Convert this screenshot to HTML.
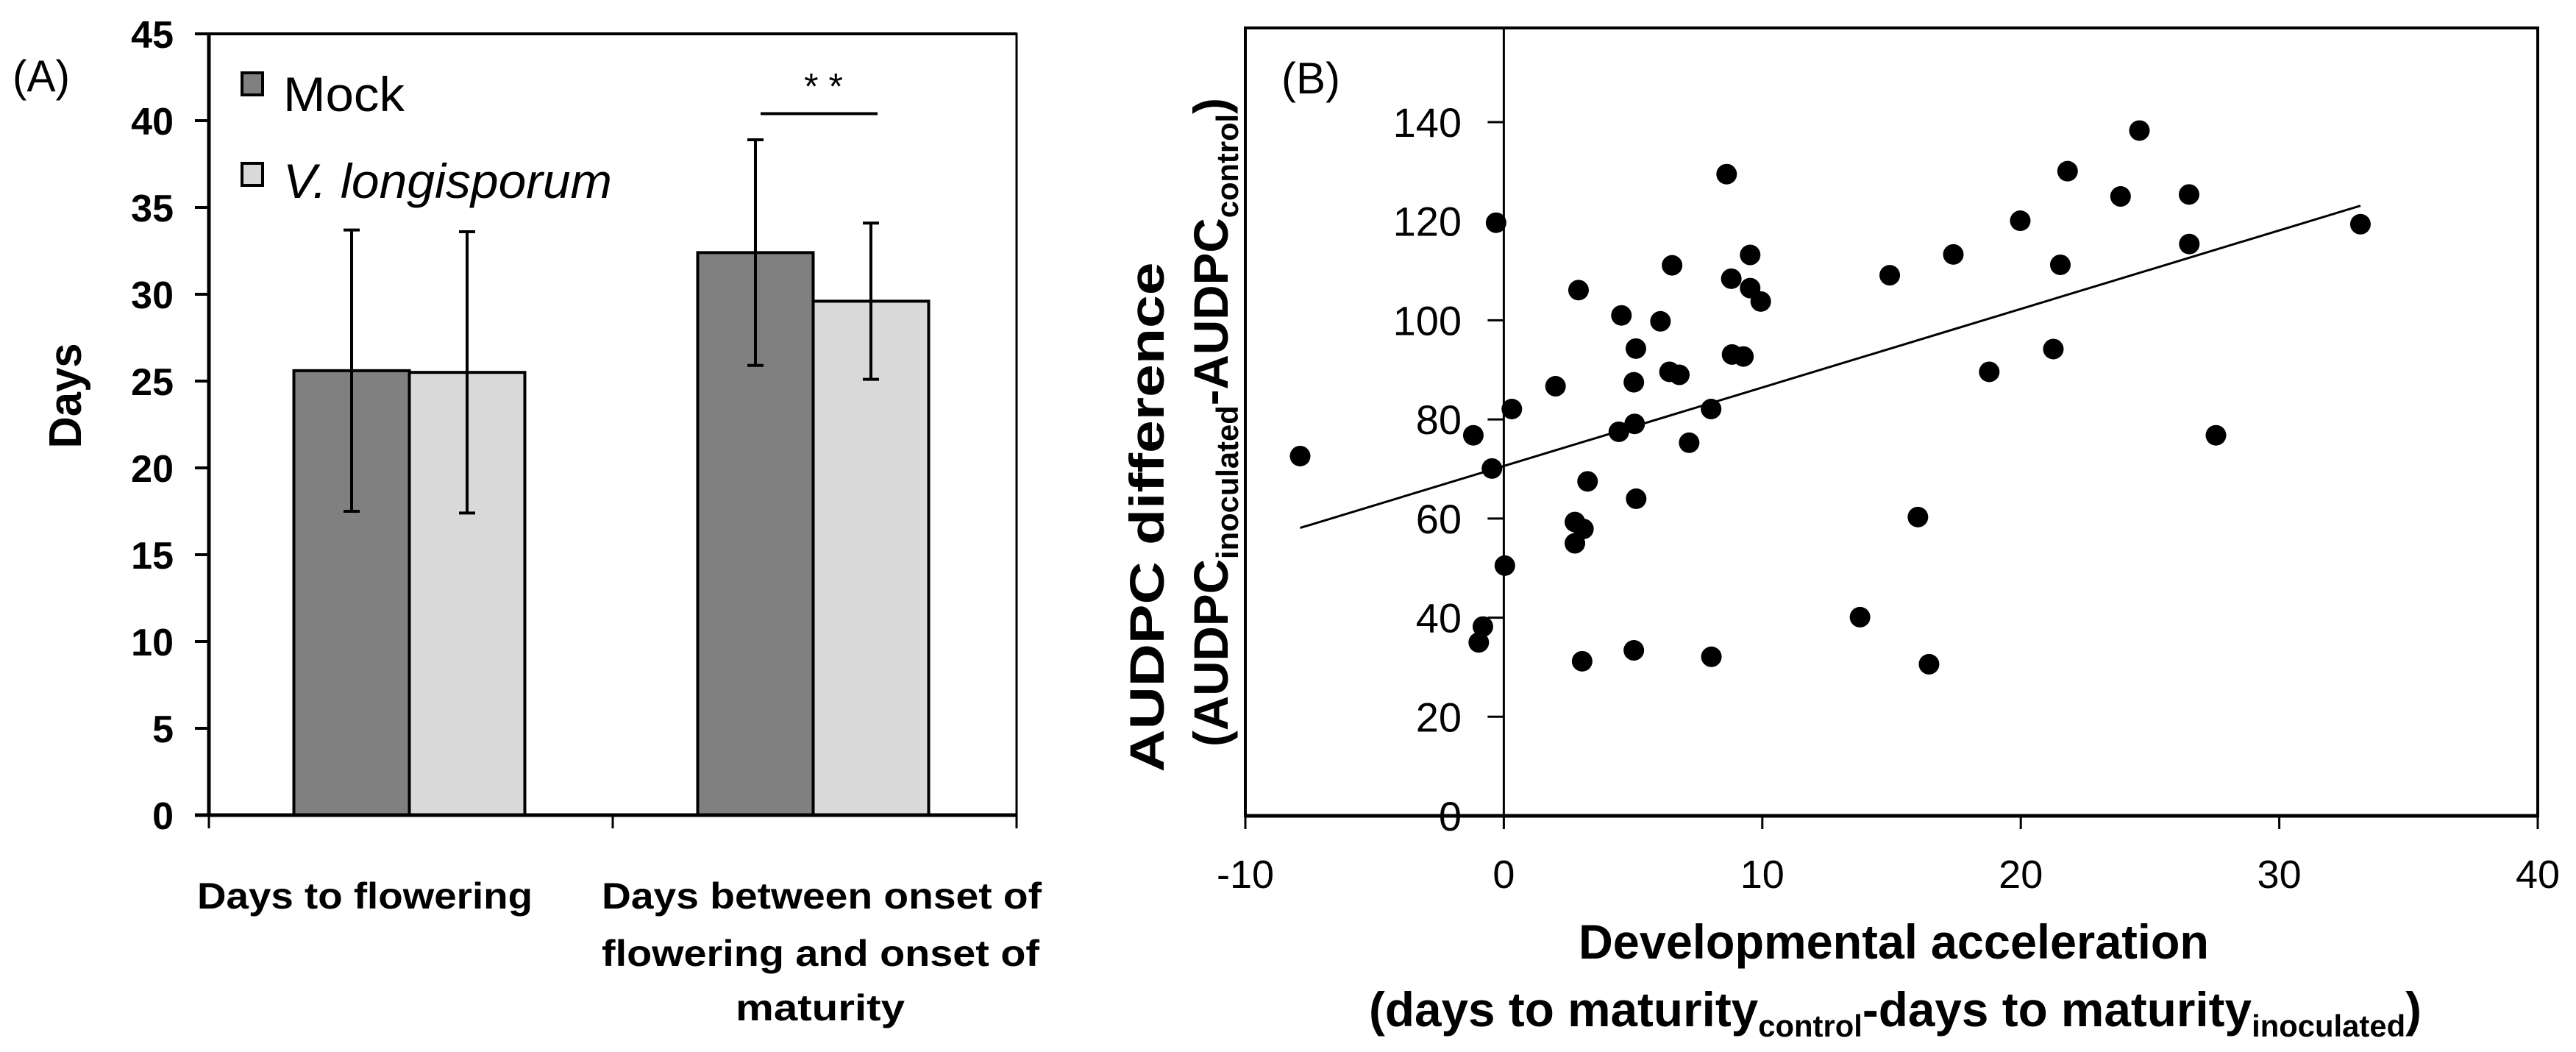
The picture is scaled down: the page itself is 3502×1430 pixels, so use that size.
<!DOCTYPE html>
<html><head><meta charset="utf-8"><style>
html,body{margin:0;padding:0;background:#fff;}
svg{display:block;font-family:"Liberation Sans",sans-serif;}
</style></head><body>
<svg id="fig" width="3502" height="1430" viewBox="0 0 3502 1430" xmlns="http://www.w3.org/2000/svg">
<g id="panelA"></g>
<g id="panelB"></g>
</svg>
<script>
// ---- Panel A data ----
const categoriesA = ["Days to flowering", "Days between onset of flowering and onset of maturity"];
const mockValues = [25.6, 32.4];
const mockErrors = [8.1, 6.5];
const vlValues = [25.5, 29.6];
const vlErrors = [8.1, 4.5];
const yTicksA = [0, 5, 10, 15, 20, 25, 30, 35, 40, 45];
const sigLevel = [40.4];
// ---- Panel B data ----
const accelX = [-7.88,-1.18,-0.46,-0.30,-0.81,-0.97,0.04,0.31,2.0,2.89,2.75,3.08,2.75,3.24,3.03,4.55,5.11,5.03,4.45,5.06,5.12,5.03,6.06,6.51,6.41,6.79,7.17,8.02,8.03,8.62,8.80,8.83,9.27,9.53,9.53,9.94,13.78,14.93,17.39,16.02,16.45,18.78,19.98,21.26,21.53,21.81,23.86,24.59,26.51,26.52,27.55,33.14];
const audpcY = [72.6,76.8,70.1,119.7,38.2,35.0,50.5,82.1,86.7,106.1,59.3,57.9,55.0,67.5,31.2,101.0,94.3,87.5,77.5,79.1,64.0,33.4,99.8,111.1,89.6,89.0,75.3,82.1,32.1,129.5,108.4,93.1,92.7,113.2,106.5,103.8,40.1,109.1,113.3,60.3,30.6,89.6,120.1,94.2,111.2,130.1,125.0,138.3,125.4,115.4,76.8,119.4];
const trendRange = [-7.88, 33.14];
const trendCoef = [70.6, 1.585];
const xTicksB = [-10, 0, 10, 20, 30, 40];
const yTicksB = [0, 20, 40, 60, 80, 100, 120, 140];

const NS = "http://www.w3.org/2000/svg";
function mk(parent, tag, attrs, text){
  const e = document.createElementNS(NS, tag);
  for (const k in attrs) e.setAttribute(k, attrs[k]);
  if (text !== undefined) e.textContent = text;
  parent.appendChild(e);
  return e;
}

// ===== Panel A =====
const A = document.getElementById('panelA');
const aL = 284, aR = 1382, aT = 46, aB = 1108;
const yA = v => aB - (v / 45) * (aB - aT);
const catW = (aR - aL) / categoriesA.length;
const barW = 157;
const catCenter = i => aL + catW * (i + 0.5) - 2;

let el;
el = mk(A, 'rect', {x: aL, y: aT, width: aR - aL, height: aB - aT, fill: 'none', stroke: '#000', 'stroke-width': 3});



for (let i = 0; i < categoriesA.length; i++) {
  const c = catCenter(i);
  el = mk(A, 'rect', {x: c - barW, y: yA(mockValues[i]), width: barW, height: aB - yA(mockValues[i]), fill: '#808080', stroke: '#000', 'stroke-width': 4});
  
  
  el = mk(A, 'rect', {x: c, y: yA(vlValues[i]), width: barW, height: aB - yA(vlValues[i]), fill: '#d9d9d9', stroke: '#000', 'stroke-width': 4});
  
  
  const series = [[c - barW / 2, mockValues[i], mockErrors[i], 'mock'], [c + barW / 2, vlValues[i], vlErrors[i], 'vl']];
  for (const s of series) {
    const g = mk(A, 'g', {stroke: '#000', 'stroke-width': 4});
    
    
    mk(g, 'line', {x1: s[0], x2: s[0], y1: yA(s[1] + s[2]), y2: yA(s[1] - s[2])});
    mk(g, 'line', {x1: s[0] - 11, x2: s[0] + 11, y1: yA(s[1] + s[2]), y2: yA(s[1] + s[2])});
    mk(g, 'line', {x1: s[0] - 11, x2: s[0] + 11, y1: yA(s[1] - s[2]), y2: yA(s[1] - s[2])});
  }
}
el = mk(A, 'line', {x1: aL, x2: aL, y1: aT, y2: aB, stroke: '#000', 'stroke-width': 5});


el = mk(A, 'line', {x1: 265, x2: aR, y1: aB, y2: aB, stroke: '#000', 'stroke-width': 5});


el = mk(A, 'line', {x1: 265, x2: aR, y1: aT, y2: aT, stroke: '#000', 'stroke-width': 4});


for (const t of yTicksA) {
  el = mk(A, 'line', {x1: 265, x2: aL, y1: yA(t), y2: yA(t), stroke: '#000', 'stroke-width': 4});
  
  
  el = mk(A, 'text', {x: 236, y: yA(t) + 19, 'text-anchor': 'end', 'font-size': 52, 'font-weight': 'bold'}, String(t));
  
  
}
for (let i = 0; i <= categoriesA.length; i++) {
  const x = aL + catW * i;
  el = mk(A, 'line', {x1: x, x2: x, y1: aB, y2: aB + 18, stroke: '#000', 'stroke-width': 3});
  
  
}
el = mk(A, 'text', {x: 268, y: 1235, 'font-size': 50, 'font-weight': 'bold', textLength: 456, lengthAdjust: 'spacingAndGlyphs'}, "Days to flowering");


const cat2 = [["Days between onset of", 818, 1235, 598], ["flowering and onset of", 818, 1313, 595], ["maturity", 1000, 1387, 230]];
for (const l of cat2) {
  el = mk(A, 'text', {x: l[1], y: l[2], 'font-size': 50, 'font-weight': 'bold', textLength: l[3], lengthAdjust: 'spacingAndGlyphs'}, l[0]);
  
  
}
el = mk(A, 'text', {x: 0, y: 0, transform: 'translate(110,538) rotate(-90)', 'text-anchor': 'middle', 'font-size': 62, 'font-weight': 'bold', textLength: 143, lengthAdjust: 'spacingAndGlyphs'}, "Days");


el = mk(A, 'text', {x: 17, y: 124, 'font-size': 60, textLength: 78, lengthAdjust: 'spacingAndGlyphs'}, "(A)");


el = mk(A, 'rect', {x: 329, y: 99, width: 28, height: 30, fill: '#808080', stroke: '#000', 'stroke-width': 4});


el = mk(A, 'text', {x: 385, y: 151, 'font-size': 66, textLength: 165, lengthAdjust: 'spacingAndGlyphs'}, "Mock");


el = mk(A, 'rect', {x: 329, y: 222, width: 28, height: 30, fill: '#d9d9d9', stroke: '#000', 'stroke-width': 4});


el = mk(A, 'text', {x: 385, y: 269, 'font-size': 66, 'font-style': 'italic', textLength: 447, lengthAdjust: 'spacingAndGlyphs'}, "V. longisporum");


el = mk(A, 'line', {x1: catCenter(1) - barW / 2 + 7, x2: catCenter(1) + barW / 2 + 9, y1: yA(sigLevel[0]), y2: yA(sigLevel[0]), stroke: '#000', 'stroke-width': 4});


el = mk(A, 'text', {x: catCenter(1) + 14, y: yA(sigLevel[0]) - 20, 'text-anchor': 'middle', 'font-size': 50}, "* *");



// ===== Panel B =====
const B = document.getElementById('panelB');
const bL = 1693, bR = 3450, bT = 38, bB = 1109;
const xB = v => bL + (v + 10) / 50 * (bR - bL);
const yB = v => bB - v * (bB - 166) / 140;

el = mk(B, 'rect', {x: bL, y: bT, width: bR - bL, height: bB - bT, fill: 'none', stroke: '#000', 'stroke-width': 4});


el = mk(B, 'line', {x1: xB(0), x2: xB(0), y1: bT, y2: bB, stroke: '#000', 'stroke-width': 3});


el = mk(B, 'line', {x1: bL, x2: bR, y1: bB, y2: bB, stroke: '#000', 'stroke-width': 5});


for (const t of yTicksB) {
  el = mk(B, 'line', {x1: xB(0) - 22, x2: xB(0), y1: yB(t), y2: yB(t), stroke: '#000', 'stroke-width': 3});
  
  
  el = mk(B, 'text', {x: 1987, y: yB(t) + 20, 'text-anchor': 'end', 'font-size': 56}, String(t));
  
  
}
for (const t of xTicksB) {
  el = mk(B, 'line', {x1: xB(t), x2: xB(t), y1: bB, y2: bB + 18, stroke: '#000', 'stroke-width': 3});
  
  
  el = mk(B, 'text', {x: xB(t), y: 1207, 'text-anchor': 'middle', 'font-size': 54}, String(t));
  
  
}
el = mk(B, 'line', {x1: xB(trendRange[0]), y1: yB(trendCoef[0] + trendCoef[1] * trendRange[0]), x2: xB(trendRange[1]), y2: yB(trendCoef[0] + trendCoef[1] * trendRange[1]), stroke: '#000', 'stroke-width': 3});


for (let i = 0; i < accelX.length; i++) {
  el = mk(B, 'circle', {cx: xB(accelX[i]), cy: yB(audpcY[i]), r: 14, fill: '#000'});
  
  
}
el = mk(B, 'text', {x: 1742, y: 127, 'font-size': 60, textLength: 80, lengthAdjust: 'spacingAndGlyphs'}, "(B)");


el = mk(B, 'text', {x: 0, y: 0, transform: 'translate(1582,703) rotate(-90)', 'text-anchor': 'middle', 'font-size': 66, 'font-weight': 'bold', textLength: 693, lengthAdjust: 'spacingAndGlyphs'}, "AUDPC difference");


const yt2 = mk(B, 'text', {x: 0, y: 0, transform: 'translate(1669,574) rotate(-90)', 'text-anchor': 'middle', 'font-size': 66, 'font-weight': 'bold', textLength: 882, lengthAdjust: 'spacingAndGlyphs'});


mk(yt2, 'tspan', {}, "(AUDPC");
mk(yt2, 'tspan', {'font-size': 42, dy: 14}, "inoculated");
mk(yt2, 'tspan', {dy: -14}, "-AUDPC");
mk(yt2, 'tspan', {'font-size': 42, dy: 14}, "control");
mk(yt2, 'tspan', {dy: -14}, ")");
el = mk(B, 'text', {x: 2146, y: 1303, 'font-size': 66, 'font-weight': 'bold', textLength: 857, lengthAdjust: 'spacingAndGlyphs'}, "Developmental acceleration");


const xt2 = mk(B, 'text', {x: 1861, y: 1395, 'font-size': 66, 'font-weight': 'bold', textLength: 1431, lengthAdjust: 'spacingAndGlyphs'});


mk(xt2, 'tspan', {}, "(days to maturity");
mk(xt2, 'tspan', {'font-size': 42, dy: 14}, "control");
mk(xt2, 'tspan', {dy: -14}, "-days to maturity");
mk(xt2, 'tspan', {'font-size': 42, dy: 14}, "inoculated");
mk(xt2, 'tspan', {dy: -14}, ")");
</script>
</body></html>
